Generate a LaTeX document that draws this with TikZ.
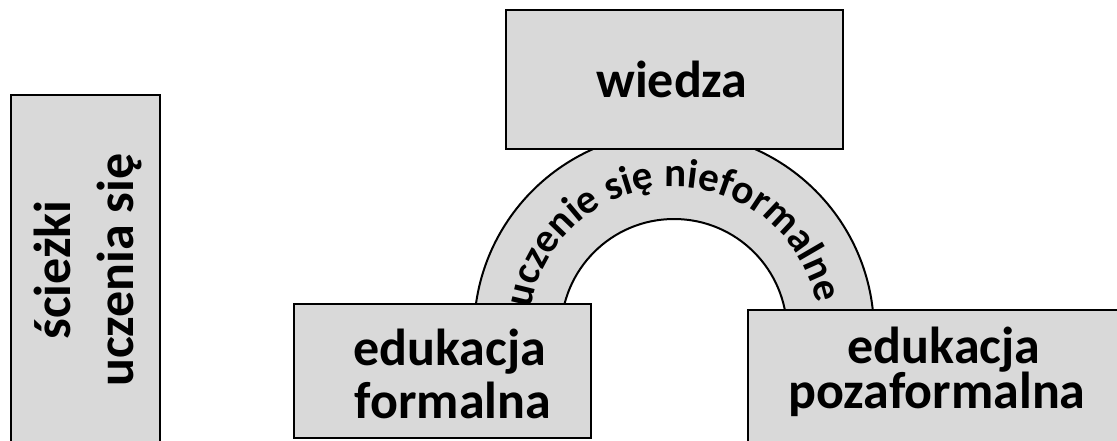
\documentclass[tikz,border=0pt]{standalone}
\usepackage{fontspec}
\setmainfont{Carlito}
\usetikzlibrary{decorations.text}
\definecolor{boxgray}{HTML}{D9D9D9}
\newcommand{\arcfont}{\bfseries\fontsize{41}{41}\selectfont}
\begin{document}
\begin{tikzpicture}[x=1pt,y=1pt,
  box/.style={draw=black, line width=2pt, fill=boxgray, inner sep=0pt, anchor=north west},
  lbl/.style={font=\bfseries\fontsize{52}{52}\selectfont, anchor=base, inner sep=0pt}]
\useasboundingbox (0,0) rectangle (1117,440);
\clip (0,0) rectangle (1117,440);
\coordinate (c) at (674,108);
% block arc
\path[box] (c) ++(0:200) arc[start angle=0,end angle=180,radius=200] -- ++(87,0)
  arc[start angle=180,end angle=0,radius=113] -- cycle;
\path[decorate, decoration={text along path, text align=center,
  text={|\arcfont|uczenie się nieformalne}}]
  (c) ++(182:145) arc[start angle=182,end angle=0,radius=145];
% boxes
\node[box, minimum width=149, minimum height=360] (paths) at (10,346) {};
\node[box, minimum width=337, minimum height=139] (wiedza) at (505,431) {};
\node[box, minimum width=297, minimum height=134] (formal) at (293,137) {};
\node[box, minimum width=400, minimum height=150] (nonformal) at (747,131) {};
% labels
\node[lbl, rotate=90] (p1) at (70,170) {ścieżki};
\node[lbl, rotate=90] (p2) at (133,170) {uczenia się};
\node[lbl] (w1) at (672,342) {wiedza};
\node[lbl] (f1) at (450,75) {edukacja};
\node[lbl] (f2) at (453,22) {formalna};
\node[lbl] (n1) at (944,77) {edukacja};
\node[lbl] (n2) at (937,32) {pozaformalna};
\end{tikzpicture}
\end{document}
